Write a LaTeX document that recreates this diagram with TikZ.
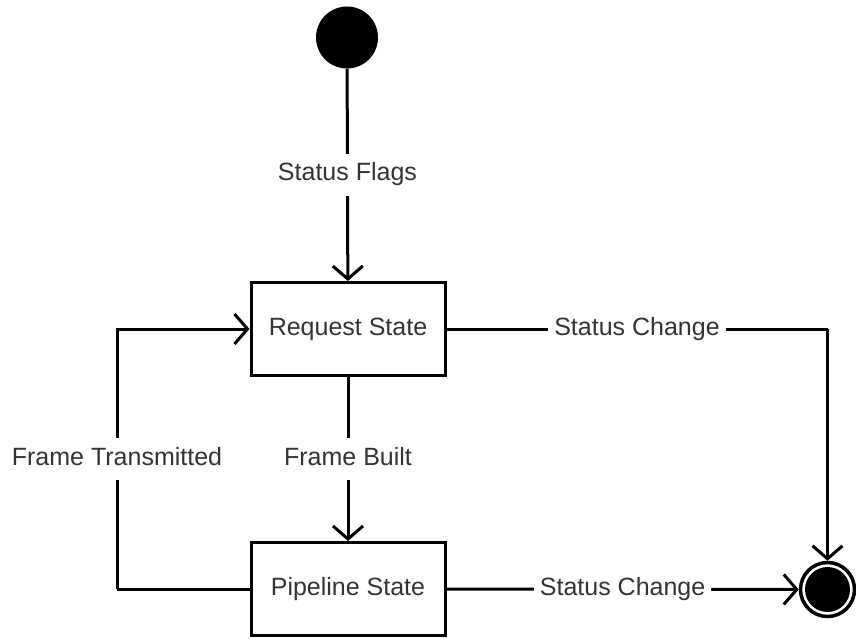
\documentclass[tikz,border=0pt]{standalone}
\usepackage{fontspec}
\setmainfont{Liberation Sans}
\usetikzlibrary{arrows.meta}
\begin{document}
\begin{tikzpicture}[x=1pt,y=-1pt,
  every node/.style={font=\fontsize{25}{29}\selectfont, text=black!80},
  conn/.style={line width=3pt, -{Straight Barb[length=13pt,width=30pt]}},
  plain/.style={line width=3pt},
  statebox/.style={draw, line width=3pt, minimum width=194pt, minimum height=93pt, inner sep=0pt},
  startstate/.style={circle, fill=black, minimum size=62pt, inner sep=0pt},
  endstate/.style={circle, draw, fill=white, line width=3.5pt, minimum size=54pt, inner sep=0pt},
  lbl/.style={fill=white, inner xsep=6pt, inner ysep=10pt, text height=17pt, text depth=5pt}]
\useasboundingbox (0,0) rectangle (856,639);

% states
\node[startstate] (start) at (347,37.5) {};
\node[statebox] (req) at (348,329) {Request State};
\node[statebox] (pipe) at (348,589) {Pipeline State};
\node[endstate] (stop) at (827.5,589.5) {};
\fill (stop.center) circle (22.5);

% bend points
\coordinate (rc) at (827.5,329);
\coordinate (lb) at (117,589);
\coordinate (lt) at (117,329);

% transitions
\draw[conn] (start) -- node[lbl] {Status Flags} (req);
\draw[conn] (req) -- node[lbl] {Frame Built} (pipe);
\draw[plain] (req.east) -- node[lbl] {Status Change} (rc);
\draw[conn] (rc) -- (stop.north);
\draw[conn] (pipe.east) -- node[lbl] {Status Change} (stop.west);
\draw[plain] (pipe.west) -- (lb);
\draw[conn] (lb) -- node[lbl] {Frame Transmitted} (lt) -- (req.west);
\end{tikzpicture}
\end{document}
